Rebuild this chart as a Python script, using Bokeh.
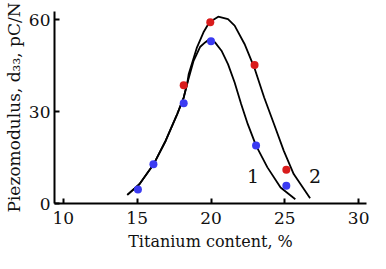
from bokeh.plotting import figure
from bokeh.models import Range1d, FixedTicker, Label
from bokeh.embed import file_html
from bokeh.resources import INLINE

# Measured points
blue_x = [15.05, 16.1, 18.15, 20.0, 23.05, 25.1]
blue_y = [4.6, 12.8, 32.7, 53.0, 18.9, 5.8]
red_x = [18.15, 19.95, 22.95, 25.1]
red_y = [38.6, 59.2, 45.2, 11.0]

# Fitted curves
curve1_x = [14.33, 15.15, 16.11, 16.93, 17.71, 18.15, 18.38, 18.82, 19.27, 19.6, 19.82,
            20.27, 20.71, 21.15, 21.6, 22.04, 22.49, 23.05, 23.82, 24.71, 25.71]
curve1_y = [2.84, 6.3, 12.8, 20.5, 29.2, 34.6, 39.0, 46.6, 51.2, 52.6, 53.4,
            52.6, 49.9, 45.5, 39.5, 32.5, 25.9, 18.9, 11.8, 5.2, 1.4]
curve2_x = [14.33, 15.15, 16.11, 16.93, 17.71, 18.15, 18.38, 18.49, 19.05, 19.49, 19.89,
            20.49, 21.15, 21.6, 22.27, 22.93, 23.6, 24.27, 24.93, 25.6, 26.71]
curve2_y = [2.84, 6.3, 12.8, 20.5, 29.2, 34.6, 39.0, 42.3, 51.0, 55.9, 59.2,
            61.0, 60.2, 58.1, 52.1, 44.4, 34.6, 25.9, 17.2, 9.6, 1.7]

x_ticks = [10, 15, 20, 25, 30]
y_ticks = [0, 30, 60]
x_label = "Titanium content, %"
y_label = "Piezomodulus, d\u2083\u2083, pC/N"
curve_labels = ["1", "2"]
curve_label_x = [22.85, 27.05]
curve_label_y = [9.1, 9.1]

FONT = "DejaVu Serif"
INK = "#111111"

p = figure(width=370, height=253, output_backend="svg", toolbar_location=None,
           x_range=Range1d(9.4, 30.53), y_range=Range1d(0, 62.7),
           min_border_left=49, min_border_right=4, min_border_top=11, min_border_bottom=50)
p.outline_line_color = None
p.grid.grid_line_color = None
p.background_fill_color = "white"
p.border_fill_color = "white"

for ax in (p.xaxis[0], p.yaxis[0]):
    ax.axis_line_width = 2
    ax.axis_line_color = "black"
    ax.major_tick_in = 5
    ax.major_tick_out = 0
    ax.major_tick_line_width = 2
    ax.minor_tick_line_color = None
    ax.major_label_text_font = FONT
    ax.major_label_text_font_size = "17px"
    ax.major_label_text_color = INK
    ax.axis_label_text_font = FONT
    ax.axis_label_text_font_style = "normal"
    ax.axis_label_text_color = INK

p.xaxis.ticker = FixedTicker(ticks=x_ticks)
p.yaxis.ticker = FixedTicker(ticks=y_ticks)
p.xaxis.major_label_standoff = 8
p.yaxis.major_label_standoff = 4
p.xaxis.axis_label = x_label
p.xaxis.axis_label_text_font_size = "16px"
p.xaxis.axis_label_standoff = 5
p.yaxis.axis_label = y_label
p.yaxis.axis_label_text_font_size = "17px"
p.yaxis.axis_label_standoff = 2

p.line(curve1_x, curve1_y, line_color="black", line_width=1.8)
p.line(curve2_x, curve2_y, line_color="black", line_width=1.8)
p.scatter(blue_x, blue_y, size=8, fill_color="#3b3bf2", line_color=None)
p.scatter(red_x, red_y, size=8, fill_color="#d91c1c", line_color=None)

for t, x, y in zip(curve_labels, curve_label_x, curve_label_y):
    p.add_layout(Label(x=x, y=y, text=t, text_font=FONT, text_font_size="19px",
                       text_align="center", text_baseline="middle", text_color=INK))

open("out.html", "w").write(file_html(p, INLINE))
